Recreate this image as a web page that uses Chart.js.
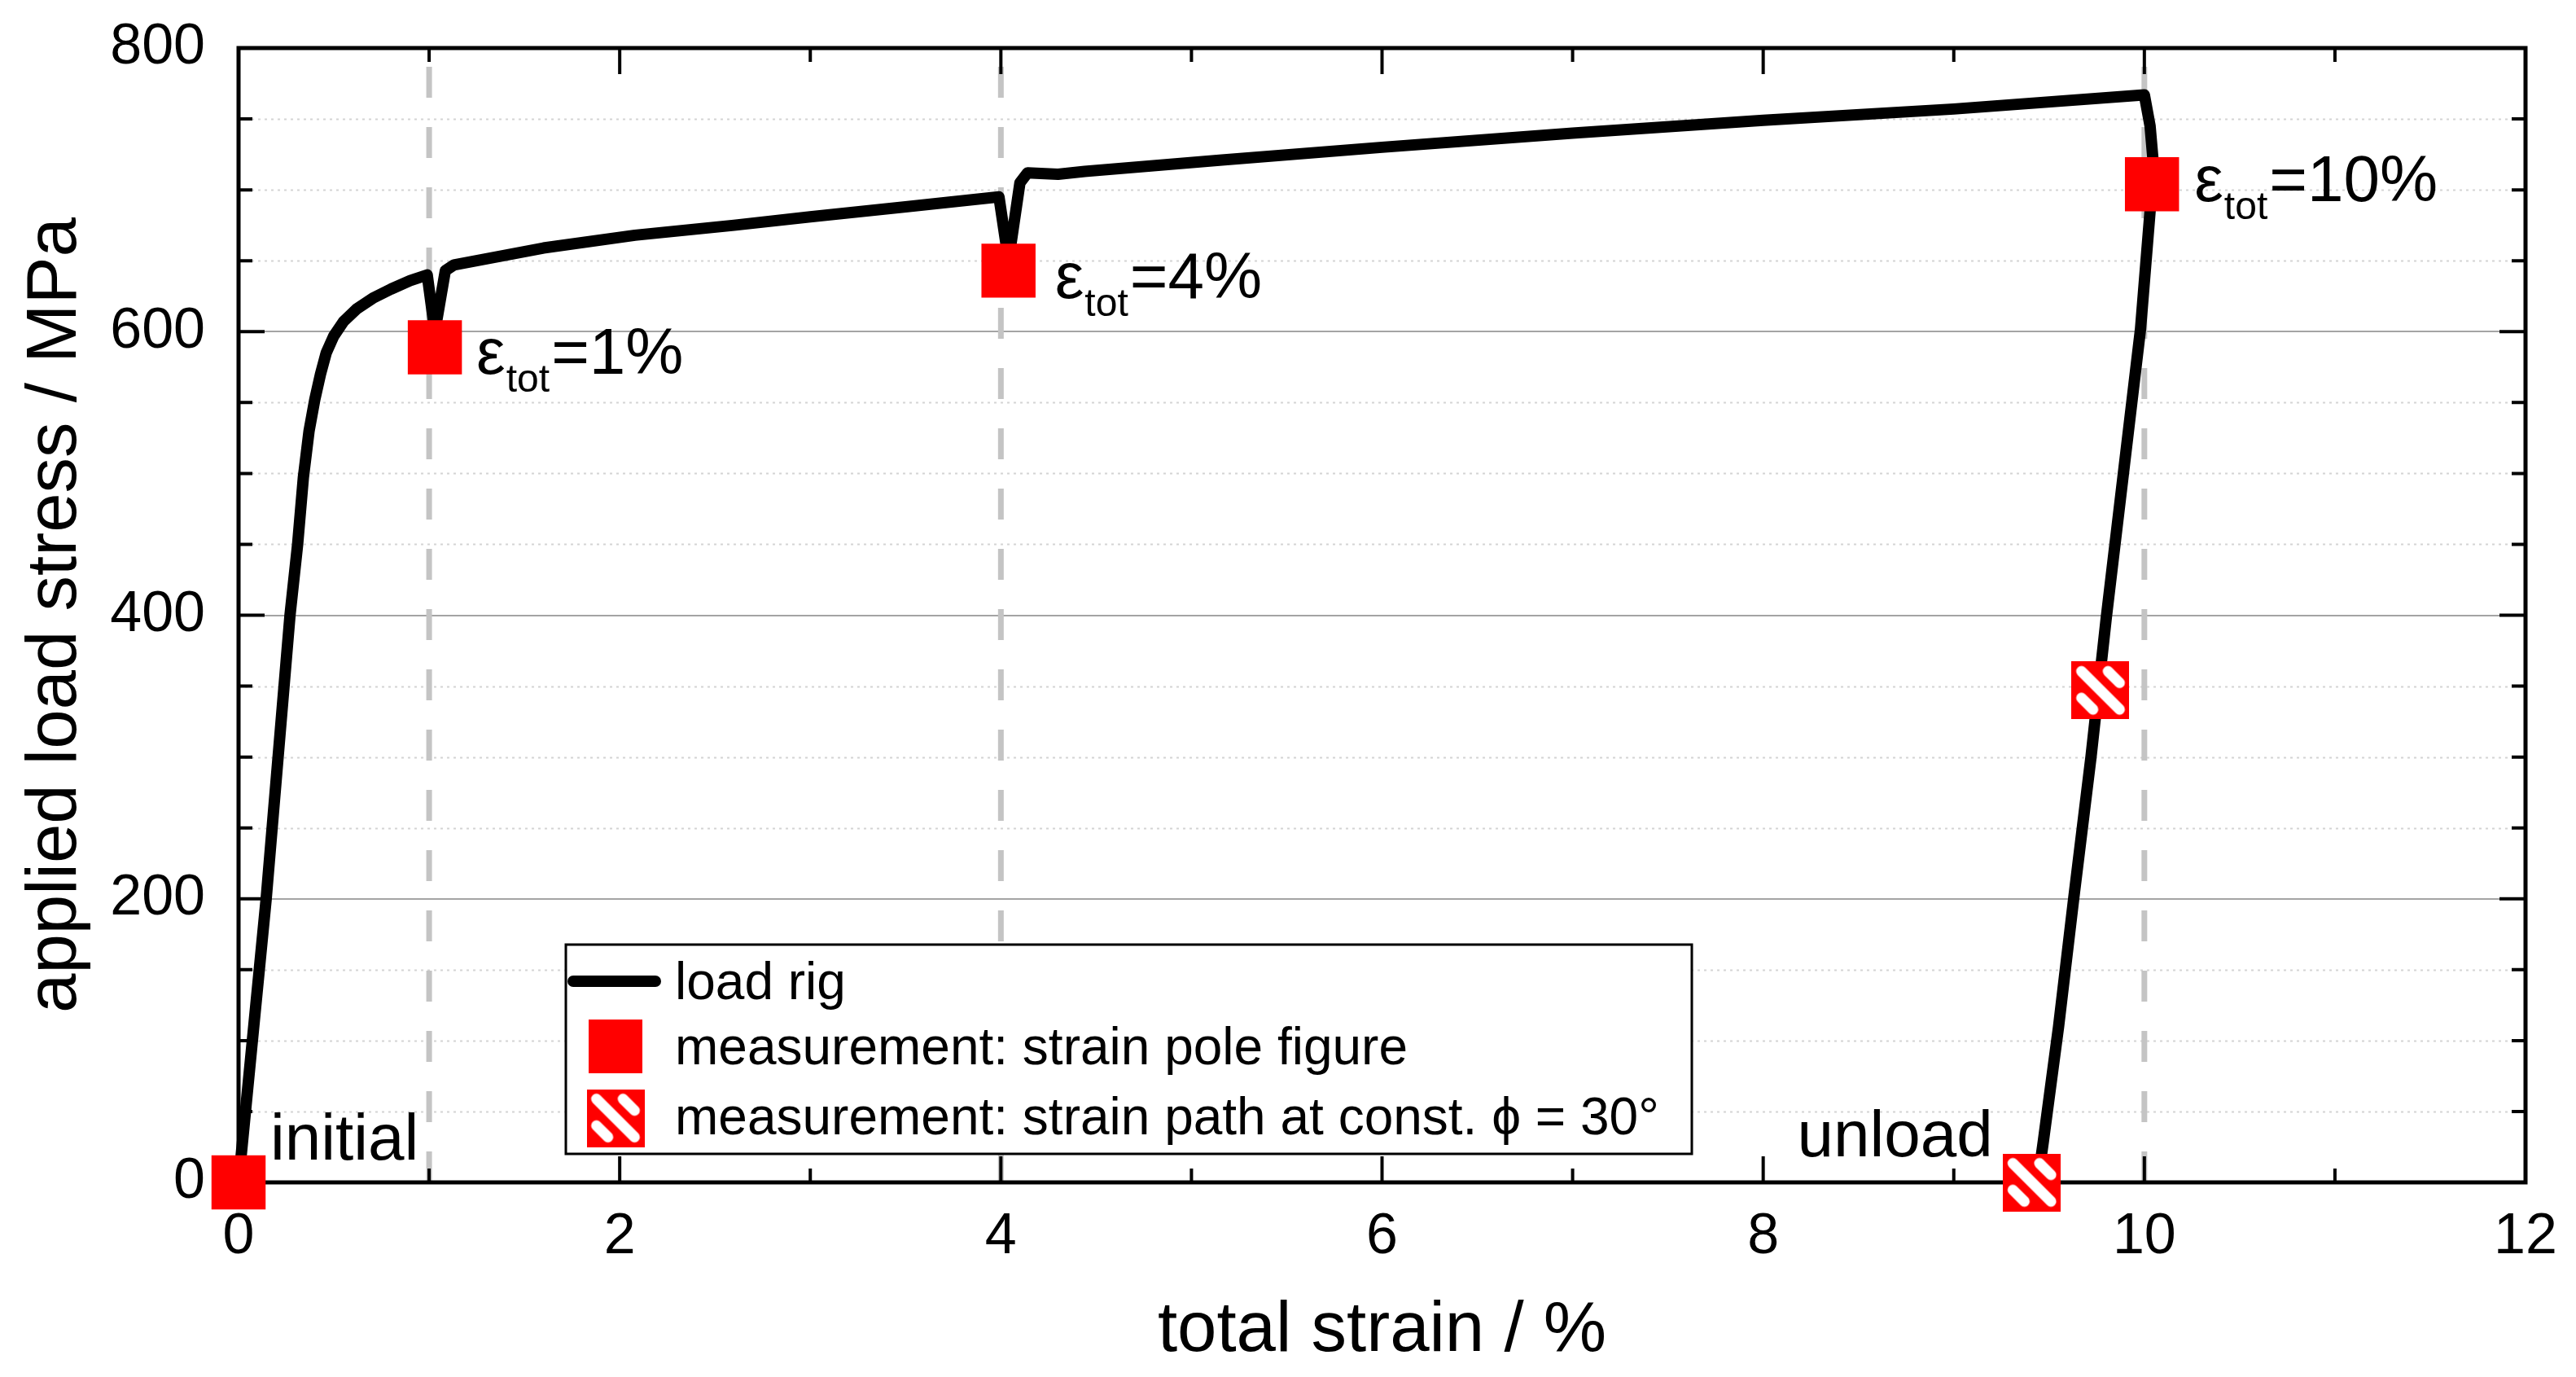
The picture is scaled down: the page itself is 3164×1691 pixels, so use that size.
<!DOCTYPE html>
<html>
<head>
<meta charset="utf-8">
<script src="https://cdn.jsdelivr.net/npm/chart.js@4.4.1/dist/chart.umd.min.js"></script>
<style>
html,body{margin:0;padding:0;background:#fff;}
#wrap{width:3164px;height:1691px;position:relative;}
</style>
</head>
<body>
<div id="wrap"><canvas id="c" width="3164" height="1691" style="width:3164px;height:1691px"></canvas></div>
<script>
// ---------------- data ----------------
const curveStrain = [0, 0.145, 0.27, 0.31, 0.34, 0.37, 0.40, 0.43, 0.46, 0.50,
  0.55, 0.62, 0.71, 0.80, 0.90, 0.99, 1.03, 1.085, 1.13, 1.6,
  2.08, 2.6, 3.0, 3.5, 3.99, 4.04, 4.10, 4.14, 4.30, 4.44,
  5.16, 6, 7, 8, 9, 10.0, 10.03, 10.05, 10.03, 9.98,
  9.89, 9.80, 9.72, 9.63, 9.55, 9.47, 9.44];
const curveStress = [0, 200, 400, 450, 497, 530, 552, 570, 585, 597,
  607, 616, 624, 630, 636, 640, 600, 643, 647, 659,
  668, 675, 681, 688, 695, 650, 705, 712, 711, 713,
  721, 730, 740, 749, 757, 767, 745, 714, 685, 602,
  500, 398, 300, 201, 110, 29, 0];

const poleStrain = [0, 1.03, 4.04, 10.04];
const poleStress = [0, 589, 643, 704];

const pathStrain = [9.77, 9.41];
const pathStress = [347, 0];

const refStrains = [1, 4, 10];

const xTickValues = [0, 2, 4, 6, 8, 10, 12];
const yTickValues = [0, 200, 400, 600, 800];

const seriesLabels = ['load rig', 'measurement: strain pole figure', 'measurement: strain path at const. \u03D5 = 30\u00B0'];
const xTitle = 'total strain / %';
const yTitle = 'applied load stress / MPa';

// annotations: which pole-figure point, and its text
const annoPointIdx = [1, 2, 3];
const annoValue = ['=1%', '=4%', '=10%'];
const initialText = 'initial';
const unloadText = 'unload';

// ---------------- styling / layout ----------------
const FONT = "'Liberation Sans', Arial, sans-serif";
const RED = '#ff0000';
const annoOffsets = [[51, 33], [57, 34], [52, 21]];

function makeHatch(size) {
  const c = document.createElement('canvas');
  c.width = size; c.height = size;
  const g = c.getContext('2d');
  g.fillStyle = RED; g.fillRect(0, 0, size, size);
  g.strokeStyle = '#fff'; g.lineWidth = 13; g.lineCap = 'round';
  const s = size;
  [[0.17, 0.17, 0.83, 0.83], [0.63, 0.17, 0.83, 0.37], [0.17, 0.63, 0.37, 0.83]].forEach(l => {
    g.beginPath(); g.moveTo(l[0] * s, l[1] * s); g.lineTo(l[2] * s, l[3] * s); g.stroke();
  });
  return c;
}
const hatchImg = makeHatch(71);

const toXY = (xs, ys) => xs.map((v, i) => ({x: v, y: ys[i]}));

const datasets = [];
datasets.push({
  label: seriesLabels[0], kind: 'line', frameBefore: true,
  data: toXY(curveStrain, curveStress), showLine: true, borderColor: '#000', borderWidth: 14,
  pointRadius: 0, tension: 0, borderJoinStyle: 'round', borderCapStyle: 'round', order: 2, clip: false
});
datasets.push({
  label: seriesLabels[1], kind: 'square',
  data: toXY(poleStrain, poleStress), showLine: false, pointStyle: 'rect', pointRadius: 47,
  backgroundColor: RED, borderColor: RED, pointBorderWidth: 0, order: 1, clip: false
});
datasets.push({
  label: seriesLabels[2], kind: 'hatch',
  data: toXY(pathStrain, pathStress), showLine: false, pointStyle: hatchImg, pointRadius: 35,
  backgroundColor: RED, borderColor: RED, pointBorderWidth: 0, order: 0, clip: false
});
refStrains.forEach(v => {
  datasets.push({
    label: '', kind: 'ref',
    data: [{x: v, y: yTickValues[0]}, {x: v, y: yTickValues[yTickValues.length - 1]}],
    showLine: true, borderColor: '#c4c4c4', borderWidth: 7, borderDash: [38, 36],
    pointRadius: 0, order: 5, clip: false
  });
});

function drawFrame(chart) {
  const {ctx, chartArea: a, scales: {x, y}} = chart;
  ctx.save();
  ctx.strokeStyle = '#000';
  ctx.lineCap = 'butt';
  ctx.lineWidth = 4;
  for (let v = x.min; v <= x.max; v += 1) {
    const px = x.getPixelForValue(v);
    const L = (v % 2 === 0) ? 32 : 17;
    ctx.beginPath();
    ctx.moveTo(px, a.bottom); ctx.lineTo(px, a.bottom - L);
    ctx.moveTo(px, a.top); ctx.lineTo(px, a.top + L);
    ctx.stroke();
  }
  for (let v = y.min; v <= y.max; v += 50) {
    const py = y.getPixelForValue(v);
    const L = (v % 200 === 0) ? 32 : 17;
    ctx.beginPath();
    ctx.moveTo(a.left, py); ctx.lineTo(a.left + L, py);
    ctx.moveTo(a.right, py); ctx.lineTo(a.right - L, py);
    ctx.stroke();
  }
  ctx.lineWidth = 5;
  ctx.strokeRect(a.left, a.top, a.right - a.left, a.bottom - a.top);
  ctx.restore();
}

const customPlugin = {
  id: 'custom',
  beforeDatasetsDraw(chart) {
    const {ctx, chartArea: a, scales: {y}} = chart;
    ctx.save();
    ctx.strokeStyle = '#d4d4d4';
    ctx.lineWidth = 2;
    ctx.setLineDash([3, 5]);
    for (let v = y.min; v <= y.max; v += 50) {
      if (v % 200 === 0) continue;
      const py = Math.round(y.getPixelForValue(v)) + 0.5;
      ctx.beginPath(); ctx.moveTo(a.left, py); ctx.lineTo(a.right, py); ctx.stroke();
    }
    ctx.restore();
  },
  beforeDatasetDraw(chart, args) {
    if (chart.data.datasets[args.index].frameBefore) drawFrame(chart);
  },
  afterDatasetsDraw(chart) {
    const {ctx, chartArea: a, scales: {x, y}} = chart;
    ctx.save();
    ctx.fillStyle = '#000';
    ctx.textBaseline = 'alphabetic';
    ctx.textAlign = 'left';
    annoPointIdx.forEach((pi, k) => {
      const px = x.getPixelForValue(poleStrain[pi]);
      const py = y.getPixelForValue(poleStress[pi]);
      const tx = px + annoOffsets[k][0];
      const ty = py + annoOffsets[k][1];
      ctx.font = '80px ' + FONT;
      ctx.fillText('\u03B5', tx, ty);
      const w1 = ctx.measureText('\u03B5').width;
      ctx.font = '48px ' + FONT;
      ctx.fillText('tot', tx + w1 + 1, ty + 22);
      const w2 = ctx.measureText('tot').width;
      ctx.font = '80px ' + FONT;
      ctx.fillText(annoValue[k], tx + w1 + w2 + 3, ty);
    });
    ctx.font = '80px ' + FONT;
    ctx.fillText(initialText, x.getPixelForValue(poleStrain[0]) + 39, y.getPixelForValue(poleStress[0]) - 28);
    ctx.textAlign = 'right';
    ctx.fillText(unloadText, x.getPixelForValue(pathStrain[1]) - 48, y.getPixelForValue(pathStress[1]) - 32);

    // legend
    const L = a.left + 402, T = a.top + 1101, W = 1383, H = 257;
    ctx.fillStyle = '#fff';
    ctx.fillRect(L, T, W, H);
    ctx.strokeStyle = '#000';
    ctx.lineWidth = 3;
    ctx.strokeRect(L, T, W, H);
    const ds = chart.data.datasets;
    const rowsY = [67, 147, 233];
    const symY = [45, 125, 213];
    const entries = ds.filter(d => d.kind !== 'ref');
    ctx.textAlign = 'left';
    entries.forEach((d, i) => {
      const cy = T + symY[i];
      if (d.kind === 'line') {
        ctx.save();
        ctx.strokeStyle = d.borderColor; ctx.lineWidth = d.borderWidth; ctx.lineCap = 'round';
        ctx.beginPath(); ctx.moveTo(L + 9, cy); ctx.lineTo(L + 110, cy); ctx.stroke();
        ctx.restore();
      } else if (d.kind === 'square') {
        ctx.fillStyle = d.backgroundColor;
        ctx.fillRect(L + 61 - 33, cy - 33, 66, 66);
      } else if (d.kind === 'hatch') {
        ctx.drawImage(d.pointStyle, L + 61 - d.pointStyle.width / 2, cy - d.pointStyle.height / 2);
      }
      ctx.fillStyle = '#000';
      ctx.font = '64px ' + FONT;
      ctx.fillText(d.label, L + 134, T + rowsY[i]);
    });
    ctx.restore();
  }
};

new Chart(document.getElementById('c'), {
  type: 'scatter',
  data: {datasets},
  plugins: [customPlugin],
  options: {
    responsive: false,
    animation: false,
    events: [],
    layout: {padding: {left: 0, top: 59, right: 62, bottom: 0}},
    plugins: {legend: {display: false}, tooltip: {enabled: false}},
    scales: {
      x: {
        type: 'linear', min: xTickValues[0], max: xTickValues[xTickValues.length - 1],
        afterBuildTicks: s => { s.ticks = xTickValues.map(v => ({value: v})); },
        afterFit: s => { s.height = 239; s.paddingLeft = 0; s.paddingRight = 0; },
        grid: {display: false, drawTicks: false},
        border: {display: false},
        ticks: {color: '#000', font: {family: FONT, size: 70}, padding: 26, maxRotation: 0, autoSkip: false},
        title: {display: true, text: xTitle, color: '#000', font: {family: FONT, size: 87}, padding: {top: 0, bottom: 4}}
      },
      y: {
        type: 'linear', min: yTickValues[0], max: yTickValues[yTickValues.length - 1],
        afterBuildTicks: s => { s.ticks = yTickValues.map(v => ({value: v})); },
        afterFit: s => { s.width = 293; s.paddingTop = 0; s.paddingBottom = 0; },
        grid: {drawTicks: false, lineWidth: 2,
          color: c => (c.tick && (c.tick.value === 0 || c.tick.value === 800)) ? 'rgba(0,0,0,0)' : '#a4a4a4'},
        border: {display: false},
        ticks: {color: '#000', font: {family: FONT, size: 70}, padding: 41, autoSkip: false},
        title: {display: true, text: yTitle, color: '#000', font: {family: FONT, size: 87}, padding: {top: 17, bottom: 0}}
      }
    }
  }
});
</script>
</body>
</html>
